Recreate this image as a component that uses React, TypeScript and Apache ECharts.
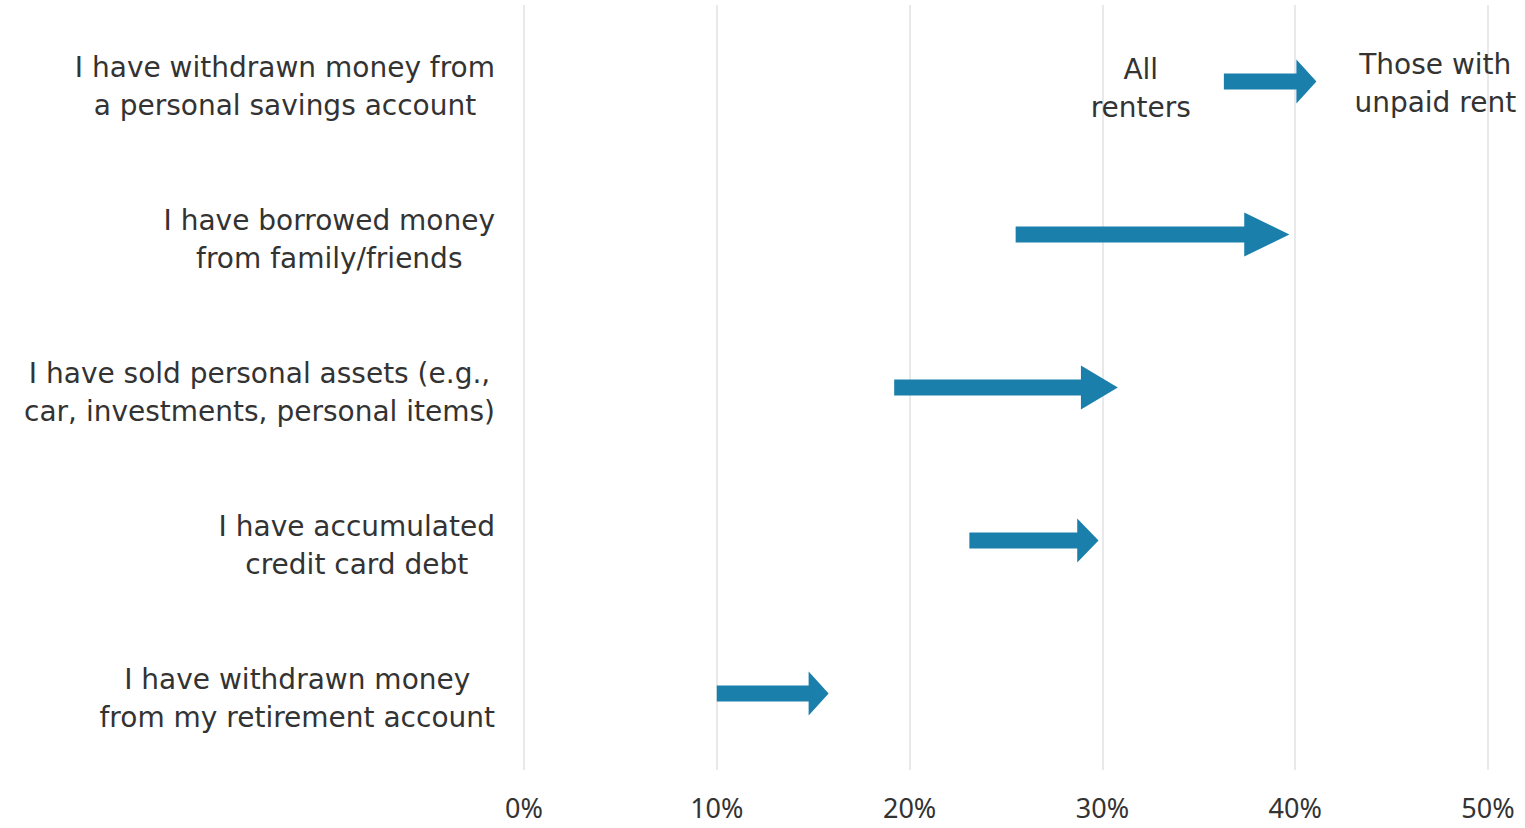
import React, { useEffect, useRef } from "react";
import * as echarts from "echarts";

const categories = [
  "I have withdrawn money from\na personal savings account",
  "I have borrowed money\nfrom family/friends",
  "I have sold personal assets (e.g.,\ncar, investments, personal items)",
  "I have accumulated\ncredit card debt",
  "I have withdrawn money\nfrom my retirement account",
];
const allRenters = [36.3, 25.5, 19.2, 23.1, 10.0];
const unpaidRent = [41.1, 39.7, 30.8, 29.8, 15.8];
const startLabels = ["All\nrenters", "", "", "", ""];
const endLabels = ["Those with\nunpaid rent", "", "", "", ""];
const xMin = 0;
const xMax = 50;
const xInterval = 10;

const FONT = "DejaVu Sans";
const TEXT_COLOR = "#333333";
const ARROW_COLOR = "#1a7fab";

const centerLines = (s: string) =>
  s
    .split("\n")
    .map((l) => `{c|${l}}`)
    .join("\n");

export default function App() {
  const ref = useRef<HTMLDivElement>(null);
  useEffect(() => {
    if (!ref.current) return;
    const chart = echarts.init(ref.current, undefined, { renderer: "svg" });
    const data = categories.map((_, i) => [i, allRenters[i], unpaidRent[i]]);
    const rich = {
      c: {
        align: "center",
        fontSize: 28,
        lineHeight: 38,
        color: TEXT_COLOR,
        fontFamily: FONT,
      },
    };
    chart.setOption({
      animation: false,
      backgroundColor: "#ffffff",
      grid: { left: 524, right: 37, top: 5, bottom: 58, containLabel: false },
      xAxis: {
        type: "value",
        min: xMin,
        max: xMax,
        interval: xInterval,
        axisLine: { show: false },
        axisTick: { show: false },
        splitLine: { show: true, lineStyle: { color: "#e2e2e2", width: 1.5 } },
        axisLabel: {
          formatter: (v: number) => `${v}%`,
          fontSize: 27,
          color: TEXT_COLOR,
          fontFamily: "Noto Sans",
          margin: 24,
        },
      },
      yAxis: {
        type: "category",
        data: categories,
        inverse: true,
        axisLine: { show: false },
        axisTick: { show: false },
        splitLine: { show: false },
        axisLabel: {
          align: "right",
          margin: 29,
          padding: [10, 0, 0, 0],
          formatter: (v: string) => centerLines(v),
          rich,
        },
      },
      series: [
        {
          type: "custom",
          data,
          encode: { x: [1, 2], y: 0 },
          renderItem: (params: any, api: any) => {
            const i = api.value(0);
            const s = api.coord([api.value(1), i]);
            const e = api.coord([api.value(2), i]);
            const len = e[0] - s[0];
            const headLen = Math.max(20, len * 0.165);
            const sh = 8;
            const hh = 22;
            const y = s[1];
            const hx = e[0] - headLen;
            const children: any[] = [
              {
                type: "polygon",
                shape: {
                  points: [
                    [s[0], y - sh],
                    [hx, y - sh],
                    [hx, y - hh],
                    [e[0], y],
                    [hx, y + hh],
                    [hx, y + sh],
                    [s[0], y + sh],
                  ],
                },
                style: { fill: ARROW_COLOR },
              },
            ];
            const sl = startLabels[params.dataIndex];
            const el = endLabels[params.dataIndex];
            if (sl) {
              children.push({
                type: "text",
                style: {
                  text: centerLines(sl),
                  x: s[0] - 33,
                  y: y + 7,
                  align: "right",
                  verticalAlign: "middle",
                  fill: TEXT_COLOR,
                  rich,
                },
              });
            }
            if (el) {
              children.push({
                type: "text",
                style: {
                  text: centerLines(el),
                  x: e[0] + 38,
                  y: y + 2,
                  align: "left",
                  verticalAlign: "middle",
                  fill: TEXT_COLOR,
                  rich,
                },
              });
            }
            return { type: "group", children };
          },
        },
      ],
    });
    return () => chart.dispose();
  }, []);
  return <div ref={ref} style={{ width: 1525, height: 828, position: "absolute", left: 0, top: 0 }} />;
}
